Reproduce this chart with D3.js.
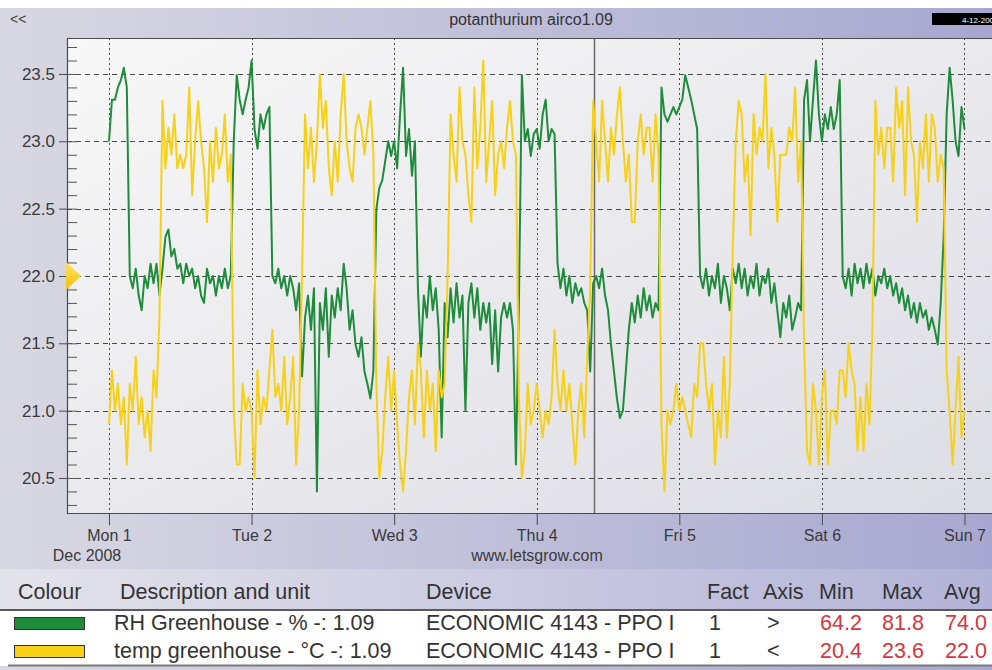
<!DOCTYPE html>
<html>
<head>
<meta charset="utf-8">
<script src="https://cdn.jsdelivr.net/npm/d3@7"></script>
<style>
  html, body { margin: 0; padding: 0; background: #fff; }
  svg { display: block; }
</style>
</head>
<body>
<div id="chart"></div>
<script>
// ---- data (half-hour readings, Mon 1 Dec 2008 00:00 .. Sun 7 00:00) ----
const title = 'potanthurium airco1.09';
const dayLabels = ['Mon 1', 'Tue 2', 'Wed 3', 'Thu 4', 'Fri 5', 'Sat 6', 'Sun 7'];
const yTicks = [20.5, 21.0, 21.5, 22.0, 22.5, 23.0, 23.5];

// temp greenhouse (°C), left axis
const tempMon = [20.9, 21.3, 21.0, 21.2, 20.9, 21.1, 20.6, 21.2, 21.0, 21.4, 20.9, 21.1, 20.8, 21.0, 20.7, 21.3, 21.1, 21.7, 23.3, 22.8, 23.1, 22.9, 23.2, 22.8, 22.9, 22.8, 22.9, 23.4, 22.6, 23.0, 23.3, 23.0, 22.8, 22.4, 23.0, 22.7, 23.1, 22.8, 22.9, 23.2, 22.7, 22.9, 21.0, 20.6, 20.6, 21.2, 21.0, 21.1];
const tempTue = [21.0, 20.5, 21.3, 20.9, 21.1, 21.0, 21.3, 21.6, 21.1, 21.2, 21.0, 21.4, 20.9, 21.1, 21.4, 20.6, 21.0, 22.0, 23.2, 22.8, 23.1, 22.7, 23.0, 23.5, 23.1, 23.3, 22.8, 22.6, 23.0, 22.7, 23.2, 23.5, 23.0, 22.8, 22.7, 23.1, 23.2, 23.1, 22.9, 23.1, 23.3, 22.9, 21.2, 20.5, 20.7, 21.1, 21.4, 21.0];
const tempWed = [21.3, 20.9, 20.6, 20.4, 20.7, 21.1, 21.3, 20.9, 21.5, 21.3, 20.8, 21.3, 21.0, 21.2, 20.7, 21.3, 21.1, 21.2, 22.0, 23.2, 22.9, 22.7, 23.4, 23.0, 22.9, 22.6, 22.4, 23.4, 22.8, 23.1, 23.6, 22.7, 23.0, 23.3, 22.6, 22.9, 23.0, 22.8, 23.1, 23.3, 23.0, 22.9, 21.1, 20.5, 20.7, 21.2, 20.9, 21.0];
const tempThu = [21.2, 21.0, 20.8, 21.0, 20.9, 21.1, 21.6, 21.2, 21.0, 21.3, 21.0, 21.2, 20.9, 20.6, 21.0, 21.2, 20.8, 21.4, 21.9, 23.3, 23.0, 22.7, 23.3, 23.0, 22.7, 23.1, 22.9, 23.2, 23.4, 23.0, 22.7, 22.9, 22.4, 22.4, 23.0, 23.2, 22.9, 23.1, 23.1, 22.7, 23.2, 22.9, 20.9, 20.4, 21.0, 20.9, 21.0, 21.2];
const tempFri = [21.0, 21.1, 21.0, 20.9, 20.8, 21.2, 21.1, 21.5, 21.5, 21.2, 21.0, 21.2, 20.6, 21.0, 20.8, 21.4, 20.8, 21.2, 22.2, 23.0, 23.3, 23.2, 22.7, 22.9, 22.3, 23.2, 22.9, 23.1, 23.0, 23.5, 22.8, 23.1, 22.9, 22.4, 22.9, 22.9, 22.9, 23.1, 23.0, 23.4, 22.7, 23.0, 21.5, 20.7, 20.6, 21.2, 21.0, 20.6];
const tempSat = [21.1, 21.3, 20.6, 21.0, 21.0, 20.9, 21.3, 21.3, 21.1, 21.5, 21.3, 21.2, 20.7, 21.1, 20.7, 21.2, 20.9, 21.6, 23.3, 22.9, 23.1, 22.8, 23.1, 23.1, 22.7, 23.4, 23.1, 23.3, 22.6, 23.4, 23.0, 22.9, 22.4, 23.0, 22.8, 23.2, 22.7, 23.2, 23.1, 22.7, 22.9, 22.8, 21.3, 21.0, 20.6, 21.0, 21.4, 20.8];
const tempSun = [21.0];

// RH greenhouse (%), right axis
const rhMon = [78.5, 80.2, 80.2, 80.7, 81.0, 81.5, 80.7, 73.0, 72.5, 73.3, 72.2, 71.6, 73.0, 72.5, 73.5, 72.7, 73.5, 72.2, 73.3, 74.6, 74.9, 73.8, 74.1, 73.3, 73.5, 72.7, 73.5, 73.0, 73.3, 72.5, 73.0, 72.2, 71.9, 73.3, 72.7, 73.0, 72.2, 73.0, 72.5, 73.3, 72.5, 73.0, 78.5, 81.2, 80.2, 79.6, 80.2, 80.7];
const rhTue = [81.8, 79.0, 78.2, 79.6, 79.0, 79.6, 79.9, 73.0, 72.7, 73.3, 72.5, 73.0, 72.2, 73.0, 72.5, 71.6, 72.7, 68.9, 71.3, 72.2, 70.8, 72.5, 64.2, 71.9, 70.8, 72.5, 69.7, 72.2, 71.3, 72.5, 71.6, 73.5, 72.5, 70.8, 71.6, 70.2, 69.7, 70.5, 69.1, 68.6, 68.0, 69.1, 75.7, 76.6, 76.9, 77.7, 78.5, 77.9];
const rhWed = [78.5, 77.4, 79.6, 81.5, 77.9, 79.0, 77.1, 78.5, 72.5, 69.7, 72.2, 71.3, 73.0, 71.6, 72.5, 70.8, 66.4, 71.9, 70.5, 72.5, 71.1, 72.7, 71.3, 72.2, 67.5, 71.9, 72.7, 71.3, 72.5, 70.8, 71.9, 71.1, 71.9, 69.4, 71.6, 69.1, 71.3, 71.9, 71.3, 71.9, 70.8, 65.3, 71.9, 81.2, 78.5, 79.0, 77.9, 78.8];
const rhThu = [79.0, 78.2, 79.6, 80.2, 78.5, 79.0, 78.8, 73.5, 72.5, 73.3, 72.2, 73.0, 71.9, 72.7, 72.2, 72.5, 71.9, 71.6, 69.1, 72.7, 73.0, 72.5, 73.3, 72.2, 71.6, 70.2, 69.1, 68.0, 67.2, 67.5, 69.1, 70.8, 71.9, 71.1, 72.2, 71.3, 72.5, 71.6, 72.2, 71.3, 71.9, 71.6, 80.7, 79.6, 79.3, 79.6, 79.9, 79.6];
const rhFri = [79.9, 80.2, 81.2, 80.7, 80.2, 79.6, 79.0, 73.0, 72.5, 73.3, 72.2, 73.0, 72.5, 73.5, 71.9, 73.0, 72.5, 71.6, 73.3, 72.7, 73.5, 72.5, 73.3, 72.2, 73.0, 72.5, 73.5, 72.2, 73.0, 72.7, 73.3, 71.9, 72.7, 71.6, 70.5, 71.9, 71.3, 72.2, 70.8, 71.3, 71.9, 71.6, 80.2, 81.0, 78.5, 80.2, 81.8, 79.6];
const rhSat = [78.5, 79.6, 79.0, 79.9, 79.0, 79.6, 81.0, 73.0, 72.5, 73.3, 72.2, 73.5, 72.7, 73.3, 72.5, 73.5, 72.7, 73.3, 72.2, 73.0, 72.7, 73.3, 72.5, 73.0, 72.2, 72.7, 71.9, 72.5, 71.6, 72.2, 71.3, 71.9, 71.1, 71.9, 71.3, 71.6, 70.8, 71.3, 70.8, 70.2, 71.9, 74.6, 79.6, 81.5, 80.2, 78.5, 77.9, 79.9];
const rhSun = [79.0];

// legend table
const tableHeaders = ['Colour', 'Description and unit', 'Device', 'Fact', 'Axis', 'Min', 'Max', 'Avg'];
const seriesNames = ['RH Greenhouse - % -: 1.09', 'temp greenhouse - °C -: 1.09'];
const seriesColors = ['#1f8c3b', '#f7d117'];
const seriesDevice = ['ECONOMIC 4143 - PPO I', 'ECONOMIC 4143 - PPO I'];
const seriesFact = ['1', '1'];
const seriesAxis = ['>', '<'];
const seriesMin = ['64.2', '20.4'];
const seriesMax = ['81.8', '23.6'];
const seriesAvg = ['74.0', '22.0'];

// ---- layout ----
const width = 992;
const height = 670;
const plot = { left: 67, top: 38, right: 992, bottom: 513 };
const start = new Date(2008, 11, 1, 0, 0);
const halfHour = 30 * 60 * 1000;
const dayDates = dayLabels.map((_, i) => new Date(2008, 11, 1 + i));
const cursorTime = new Date(2008, 11, 4, 9, 36);

const toPoints = vals => vals.map((v, i) => ({ t: new Date(start.getTime() + i * halfHour), v }));
const tempData = toPoints([].concat(tempMon, tempTue, tempWed, tempThu, tempFri, tempSat, tempSun));
const rhData = toPoints([].concat(rhMon, rhTue, rhWed, rhThu, rhFri, rhSat, rhSun));

const x = d3.scaleTime()
  .domain([new Date(2008, 10, 30, 16, 56), new Date(2008, 11, 7, 4, 38)])
  .range([plot.left, plot.right]);

const y = d3.scaleLinear()
  .domain([20.24, 23.767])
  .range([plot.bottom, plot.top]);

// right axis (not drawn) - RH range mapped onto the same band as the temp extremes
const yR = d3.scaleLinear()
  .domain([64.2, 81.8])
  .range([y(20.4), y(23.6)]);

const svg = d3.select('#chart').append('svg')
  .attr('width', width)
  .attr('height', height)
  .style('font-family', '"Liberation Sans", Arial, sans-serif');

const defs = svg.append('defs');
const hGrad = (id, c0, c1) => {
  const g = defs.append('linearGradient').attr('id', id)
    .attr('x1', 0).attr('y1', 0).attr('x2', 1).attr('y2', 0);
  g.append('stop').attr('offset', '0%').attr('stop-color', c0);
  g.append('stop').attr('offset', '100%').attr('stop-color', c1);
};
hGrad('bandGrad', '#d8d8e3', '#a7a7d1');
hGrad('headGrad', '#e3e3eb', '#b3b3d8');

const pg = defs.append('linearGradient').attr('id', 'plotGrad')
  .attr('x1', 0).attr('y1', 0).attr('x2', 1).attr('y2', 1);
pg.append('stop').attr('offset', '0%').attr('stop-color', '#f8f8f8');
pg.append('stop').attr('offset', '100%').attr('stop-color', '#dcdce4');

const tg = defs.append('linearGradient').attr('id', 'triGrad')
  .attr('x1', 0).attr('y1', 0).attr('x2', 0).attr('y2', 1);
tg.append('stop').attr('offset', '0%').attr('stop-color', '#fde36a');
tg.append('stop').attr('offset', '100%').attr('stop-color', '#f2c200');

defs.append('clipPath').attr('id', 'plotClip')
  .append('rect')
  .attr('x', plot.left).attr('y', plot.top)
  .attr('width', plot.right - plot.left).attr('height', plot.bottom - plot.top);

// backgrounds
svg.append('rect').attr('x', 0).attr('y', 8).attr('width', width).attr('height', 561)
  .attr('fill', 'url(#bandGrad)');
svg.append('rect').attr('x', 0).attr('y', 569).attr('width', width).attr('height', 40)
  .attr('fill', 'url(#headGrad)');
svg.append('rect').attr('x', 0).attr('y', 666).attr('width', width).attr('height', 4)
  .attr('fill', 'url(#bandGrad)');
svg.append('rect')
  .attr('x', plot.left).attr('y', plot.top)
  .attr('width', plot.right - plot.left).attr('height', plot.bottom - plot.top)
  .attr('fill', 'url(#plotGrad)');

// header strip
svg.append('text').attr('x', 10).attr('y', 24)
  .attr('font-size', 14).attr('fill', '#444').text('<<');
svg.append('text').attr('x', 531).attr('y', 25)
  .attr('text-anchor', 'middle')
  .attr('font-size', 16).attr('fill', '#333').text(title);
svg.append('rect').attr('x', 932).attr('y', 13).attr('width', 62).attr('height', 12).attr('fill', '#000');
svg.append('text').attr('x', 962).attr('y', 22.5)
  .attr('font-size', 8).attr('fill', '#fff').text('4-12-2008');

// grid
svg.append('g')
  .attr('stroke', '#4a4a4a')
  .attr('stroke-width', 1)
  .call(g => {
    g.append('g')
      .attr('stroke-dasharray', '5,4')
      .selectAll('line')
      .data(yTicks)
      .join('line')
      .attr('x1', plot.left).attr('x2', plot.right)
      .attr('y1', d => Math.round(y(d)) + 0.5)
      .attr('y2', d => Math.round(y(d)) + 0.5);
  })
  .call(g => {
    g.append('g')
      .attr('stroke-dasharray', '2,3')
      .selectAll('line')
      .data(dayDates)
      .join('line')
      .attr('x1', d => Math.round(x(d)) + 0.5)
      .attr('x2', d => Math.round(x(d)) + 0.5)
      .attr('y1', plot.top).attr('y2', plot.bottom);
  });

// cursor line
svg.append('line')
  .attr('x1', Math.round(x(cursorTime)) + 0.5).attr('x2', Math.round(x(cursorTime)) + 0.5)
  .attr('y1', plot.top).attr('y2', plot.bottom)
  .attr('stroke', '#6a6a6a').attr('stroke-width', 1.5);

// series
const lines = svg.append('g').attr('clip-path', 'url(#plotClip)').attr('fill', 'none')
  .attr('stroke-width', 2).attr('stroke-linejoin', 'round');

lines.append('path')
  .datum(rhData)
  .attr('stroke', seriesColors[0])
  .attr('d', d3.line().x(d => x(d.t)).y(d => yR(d.v)));

lines.append('path')
  .datum(tempData)
  .attr('stroke', seriesColors[1])
  .attr('d', d3.line().x(d => x(d.t)).y(d => y(d.v)));

// plot frame
svg.append('path')
  .attr('d', `M${plot.right + 5},${plot.top + 0.5}H${plot.left + 0.5}V${plot.bottom + 0.5}H${plot.right + 5}`)
  .attr('fill', 'none').attr('stroke', '#4a4a4a').attr('stroke-width', 1.2);

// y axis
svg.append('g')
  .attr('transform', `translate(${plot.left},0)`)
  .call(d3.axisLeft(y).tickValues(yTicks).tickFormat(d3.format('.1f')).tickSize(8).tickPadding(4))
  .call(g => g.select('.domain').remove())
  .call(g => g.selectAll('line').attr('stroke', '#4a4a4a'))
  .call(g => g.selectAll('text').attr('font-size', 17).attr('fill', '#3a3a3a')
    .attr('font-family', '"Liberation Sans", Arial, sans-serif'));

svg.append('g')
  .attr('transform', `translate(${plot.left},0)`)
  .call(d3.axisRight(y).tickValues(d3.range(203, 238).map(d => d / 10)).tickFormat('').tickSize(10))
  .call(g => g.select('.domain').remove())
  .call(g => g.selectAll('line').attr('stroke', '#555'));

// average marker on left axis
svg.append('path')
  .attr('d', `M${plot.left - 1},${y(22.0) - 14}L${plot.left + 14},${y(22.0)}L${plot.left - 1},${y(22.0) + 14}Z`)
  .attr('fill', 'url(#triGrad)');

// x axis
svg.append('g')
  .attr('transform', `translate(0,${plot.bottom})`)
  .call(d3.axisBottom(x).tickValues(dayDates).tickFormat((d, i) => dayLabels[i]).tickSize(12).tickPadding(5))
  .call(g => g.select('.domain').remove())
  .call(g => g.selectAll('line').attr('stroke', '#4a4a4a'))
  .call(g => g.selectAll('text').attr('font-size', 16).attr('fill', '#3a3a3a')
    .attr('font-family', '"Liberation Sans", Arial, sans-serif'));

svg.append('text').attr('x', 87).attr('y', 561).attr('text-anchor', 'middle')
  .attr('font-size', 16).attr('fill', '#3a3a3a').text('Dec 2008');
svg.append('text').attr('x', 537).attr('y', 561).attr('text-anchor', 'middle')
  .attr('font-size', 16).attr('fill', '#3a3a3a').text('www.letsgrow.com');

// legend table
const colX = [18, 120, 426, 707, 763, 819, 882, 944];
const rowX = [14, 114, 426, 709, 767, 820, 882, 945];
const rowY = [630, 658];

svg.append('g')
  .selectAll('text')
  .data(tableHeaders)
  .join('text')
  .attr('x', (_, i) => colX[i])
  .attr('y', 599)
  .attr('font-size', 21.5)
  .attr('fill', '#333')
  .text(d => d);

svg.append('rect').attr('x', 0).attr('y', 610).attr('width', width).attr('height', 55).attr('fill', '#fff');
svg.append('line').attr('x1', 0).attr('x2', width).attr('y1', 610).attr('y2', 610)
  .attr('stroke', '#5a5a5a').attr('stroke-width', 2);
svg.append('line').attr('x1', 8).attr('x2', width).attr('y1', 665.5).attr('y2', 665.5)
  .attr('stroke', '#7a7a7a').attr('stroke-width', 2);

const rows = svg.append('g')
  .selectAll('g')
  .data(seriesNames)
  .join('g')
  .attr('transform', (_, i) => `translate(0,${rowY[i]})`);

rows.append('rect')
  .attr('x', rowX[0] + 0.5).attr('y', -12.5)
  .attr('width', 70).attr('height', 12)
  .attr('fill', (_, i) => seriesColors[i])
  .attr('stroke', '#333').attr('stroke-width', 1);

const cells = [
  i => seriesNames[i], i => seriesDevice[i], i => seriesFact[i], i => seriesAxis[i],
  i => seriesMin[i], i => seriesMax[i], i => seriesAvg[i]
];
cells.forEach((fn, c) => {
  rows.append('text')
    .attr('x', rowX[c + 1])
    .attr('y', 0)
    .attr('font-size', 21.5)
    .attr('fill', c >= 4 ? '#d8343f' : '#333')
    .text((_, i) => fn(i));
});
</script>
</body>
</html>
